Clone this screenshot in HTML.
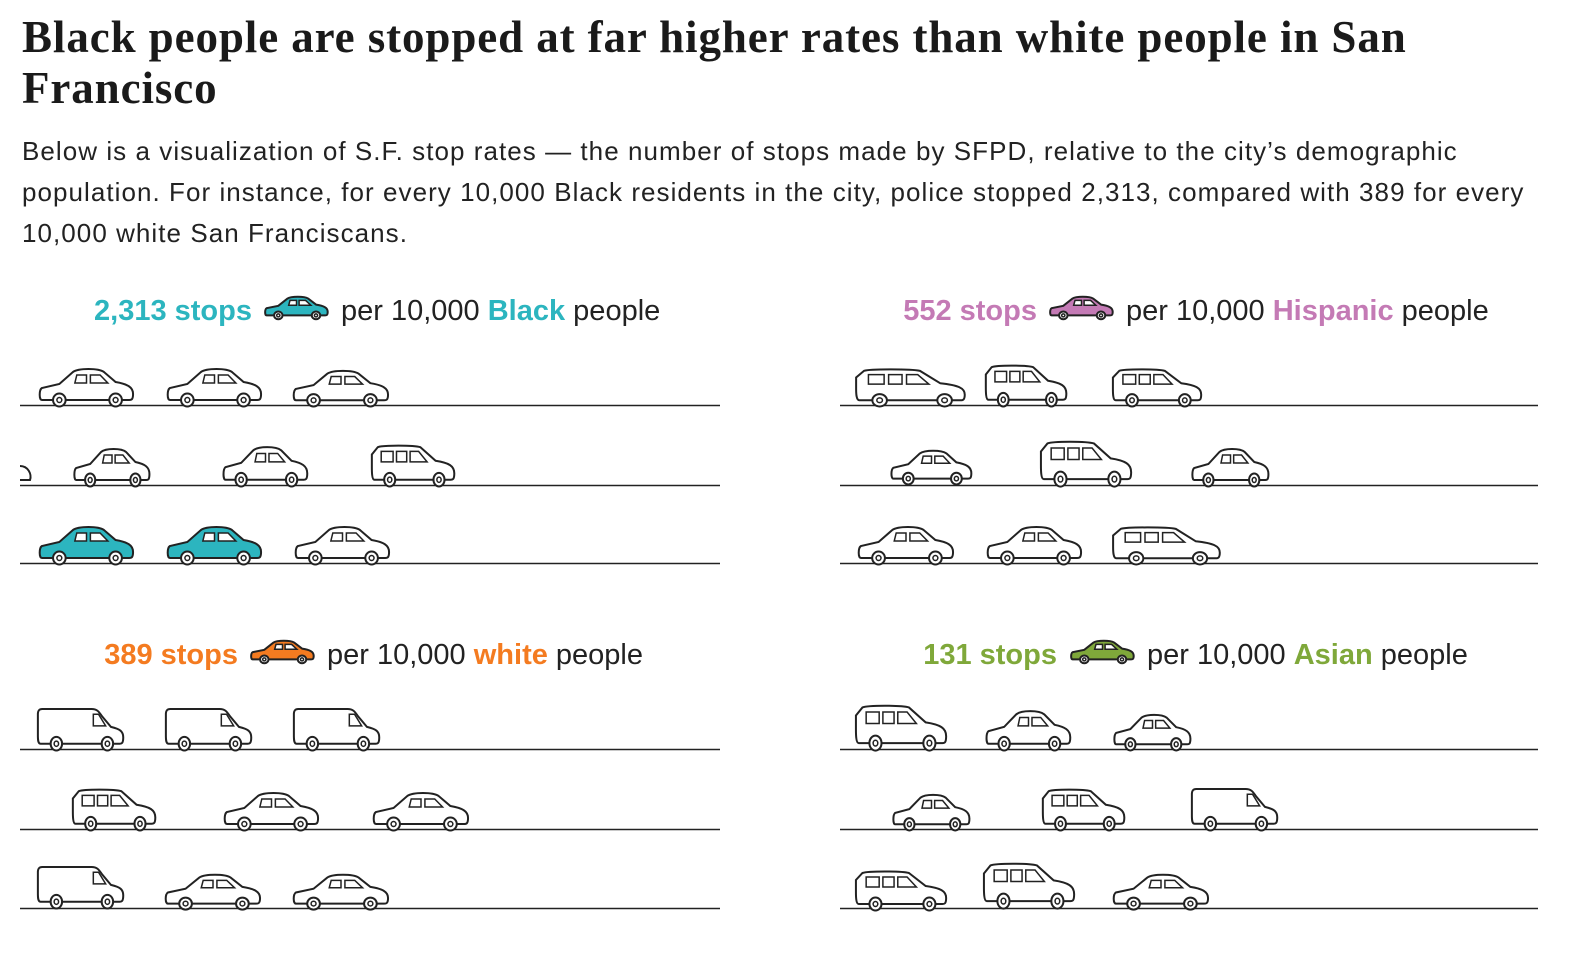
<!DOCTYPE html>
<html><head><meta charset="utf-8"><style>
body{margin:0;background:#fff;width:1584px;height:958px;overflow:hidden;position:relative;font-family:"Liberation Sans",sans-serif;color:#222}
h1{position:absolute;left:22px;top:12px;margin:0;font-family:"Liberation Serif",serif;font-weight:bold;font-size:45px;line-height:51px;color:#1a1a1a;width:1440px;letter-spacing:0.9px}
p{position:absolute;left:22px;top:131px;margin:0;font-size:26px;line-height:41px;white-space:nowrap;color:#222;letter-spacing:1.05px}
.hd{position:absolute;font-size:29px;white-space:nowrap;color:#222;top:292px;line-height:38px}
.r{text-align:right}
.hd b{font-weight:bold}
svg{position:absolute;left:0;top:0}
</style></head><body>
<h1>Black people are stopped at far higher rates than white people in San Francisco</h1>
<p>Below is a visualization of S.F. stop rates — the number of stops made by SFPD, relative to the city’s demographic<br>population. For instance, for every 10,000 Black residents in the city, police stopped 2,313, compared with 389 for every<br>10,000 white San Franciscans.</p>
<div class="hd r" style="right:1332px"><b style="color:#2cb5bf">2,313 stops</b></div>
<div class="hd" style="left:341px">per 10,000 <b style="color:#2cb5bf">Black</b> people</div>
<div class="hd r" style="right:547px"><b style="color:#c47ab5">552 stops</b></div>
<div class="hd" style="left:1126px">per 10,000 <b style="color:#c47ab5">Hispanic</b> people</div>
<div class="hd r" style="right:1346px;top:636px"><b style="color:#f47b20">389 stops</b></div>
<div class="hd" style="left:327px;top:636px">per 10,000 <b style="color:#f47b20">white</b> people</div>
<div class="hd r" style="right:527px;top:636px"><b style="color:#7fa83a">131 stops</b></div>
<div class="hd" style="left:1147px;top:636px">per 10,000 <b style="color:#7fa83a">Asian</b> people</div>
<svg width="1584" height="958">
<defs>
<g id="wh">
<circle cx="22" cy="34" r="6.5" fill="#fff" stroke="#222" stroke-width="2" vector-effect="non-scaling-stroke"/>
<circle cx="22" cy="34" r="2.5" fill="none" stroke="#222" stroke-width="1.5" vector-effect="non-scaling-stroke"/>
<circle cx="80" cy="34" r="6.5" fill="#fff" stroke="#222" stroke-width="2" vector-effect="non-scaling-stroke"/>
<circle cx="80" cy="34" r="2.5" fill="none" stroke="#222" stroke-width="1.5" vector-effect="non-scaling-stroke"/>
</g>
<g id="car">
<path d="M4,34 C1,34 1,24 4,22 L22,18 L36,6 C42,2 62,2 68,6 L80,16 C92,18 98,21 98,28 C98,34 96,34 94,34 Z" stroke="#222" stroke-width="2" vector-effect="non-scaling-stroke"/>
<path d="M40,9 L50,9 L50,17 L38,17 Z M54,9 L64,9 L72,17 L54,17 Z" fill="#fff" stroke="#222" stroke-width="1.5" vector-effect="non-scaling-stroke"/>
<use href="#wh"/>
</g>
<g id="van">
<path d="M4,34 C1,34 1,30 1,26 L1,6 C1,2 3,1 6,1 L62,1 C68,1 70,3 74,8 L84,18 C94,20 98,22 98,28 C98,34 96,34 94,34 Z" fill="#fff" stroke="#222" stroke-width="2" vector-effect="non-scaling-stroke"/>
<path d="M64,6 L70,6 L78,17 L64,17 Z" fill="#fff" stroke="#222" stroke-width="1.5" vector-effect="non-scaling-stroke"/>
<use href="#wh"/>
</g>
<g id="suv">
<path d="M4,34 C1,34 1,26 1,22 L1,10 L8,3 C14,1 50,1 58,3 L76,16 C92,18 98,21 98,28 C98,34 96,34 94,34 Z" fill="#fff" stroke="#222" stroke-width="2" vector-effect="non-scaling-stroke"/>
<path d="M12,7 L26,7 L26,17 L12,17 Z M30,7 L42,7 L42,17 L30,17 Z M46,7 L56,7 L66,17 L46,17 Z" fill="#fff" stroke="#222" stroke-width="1.5" vector-effect="non-scaling-stroke"/>
<use href="#wh"/>
</g>
</defs>
<g stroke="#222" stroke-width="1.5">
<line x1="20" y1="405.5" x2="720" y2="405.5"/><line x1="20" y1="485.5" x2="720" y2="485.5"/><line x1="20" y1="563.5" x2="720" y2="563.5"/>
<line x1="840" y1="405.5" x2="1538" y2="405.5"/><line x1="840" y1="485.5" x2="1538" y2="485.5"/><line x1="840" y1="563.5" x2="1538" y2="563.5"/>
<line x1="20" y1="749.5" x2="720" y2="749.5"/><line x1="20" y1="829.5" x2="720" y2="829.5"/><line x1="20" y1="908.5" x2="720" y2="908.5"/>
<line x1="840" y1="749.5" x2="1538" y2="749.5"/><line x1="840" y1="829.5" x2="1538" y2="829.5"/><line x1="840" y1="908.5" x2="1538" y2="908.5"/>
</g>
<path d="M20,466 C28,466 32,474 30,480 L20,480" fill="none" stroke="#222" stroke-width="2"/>
<use href="#car" fill="#2cb5bf" transform="translate(264,295) scale(0.65,0.6)"/>
<use href="#car" fill="#c47ab5" transform="translate(1049,295) scale(0.65,0.6)"/>
<use href="#car" fill="#f47b20" transform="translate(250,639) scale(0.65,0.6)"/>
<use href="#car" fill="#7fa83a" transform="translate(1070,639) scale(0.65,0.6)"/>
<!-- Black -->
<use href="#car" fill="#fff" transform="translate(38,366) scale(0.97,1)"/>
<use href="#car" fill="#fff" transform="translate(166,366) scale(0.97,1)"/>
<use href="#car" fill="#fff" transform="translate(292,368) scale(0.98,0.95)"/>
<use href="#car" fill="#fff" transform="translate(73,446) scale(0.78,1)"/>
<use href="#car" fill="#fff" transform="translate(222,444) scale(0.87,1.05)"/>
<use href="#suv" transform="translate(371,444) scale(0.85,1.05)"/>
<use href="#car" fill="#2cb5bf" transform="translate(38,524) scale(0.97,1)"/>
<use href="#car" fill="#2cb5bf" transform="translate(166,524) scale(0.97,1)"/>
<use href="#car" fill="#fff" transform="translate(294,524) scale(0.97,1)"/>
<!-- Hispanic -->
<use href="#suv" transform="translate(855,368) scale(1.12,0.95)"/>
<use href="#suv" transform="translate(985,364) scale(0.83,1.05)"/>
<use href="#suv" transform="translate(1112,368) scale(0.91,0.95)"/>
<use href="#car" fill="#fff" transform="translate(890,448) scale(0.83,0.9)"/>
<use href="#suv" transform="translate(1040,440) scale(0.93,1.15)"/>
<use href="#car" fill="#fff" transform="translate(1191,446) scale(0.79,1)"/>
<use href="#car" fill="#fff" transform="translate(857,524) scale(0.98,1)"/>
<use href="#car" fill="#fff" transform="translate(986,524) scale(0.97,1)"/>
<use href="#suv" transform="translate(1112,526) scale(1.1,0.95)"/>
<!-- white -->
<use href="#van" transform="translate(37,708) scale(0.88,1.05)"/>
<use href="#van" transform="translate(165,708) scale(0.88,1.05)"/>
<use href="#van" transform="translate(293,708) scale(0.88,1.05)"/>
<use href="#suv" transform="translate(72,788) scale(0.85,1.05)"/>
<use href="#car" fill="#fff" transform="translate(223,790) scale(0.97,1)"/>
<use href="#car" fill="#fff" transform="translate(372,790) scale(0.98,1)"/>
<use href="#van" transform="translate(37,866) scale(0.88,1.05)"/>
<use href="#car" fill="#fff" transform="translate(164,872) scale(0.98,0.93)"/>
<use href="#car" fill="#fff" transform="translate(292,872) scale(0.98,0.93)"/>
<!-- Asian -->
<use href="#suv" transform="translate(855,704) scale(0.93,1.15)"/>
<use href="#car" fill="#fff" transform="translate(985,708) scale(0.87,1.05)"/>
<use href="#car" fill="#fff" transform="translate(1113,712) scale(0.79,0.95)"/>
<use href="#car" fill="#fff" transform="translate(892,792) scale(0.79,0.95)"/>
<use href="#suv" transform="translate(1042,788) scale(0.84,1.05)"/>
<use href="#van" transform="translate(1191,788) scale(0.88,1.05)"/>
<use href="#suv" transform="translate(855,870) scale(0.93,1)"/>
<use href="#suv" transform="translate(983,862) scale(0.93,1.15)"/>
<use href="#car" fill="#fff" transform="translate(1112,872) scale(0.98,0.93)"/>
</svg>
</body></html>
